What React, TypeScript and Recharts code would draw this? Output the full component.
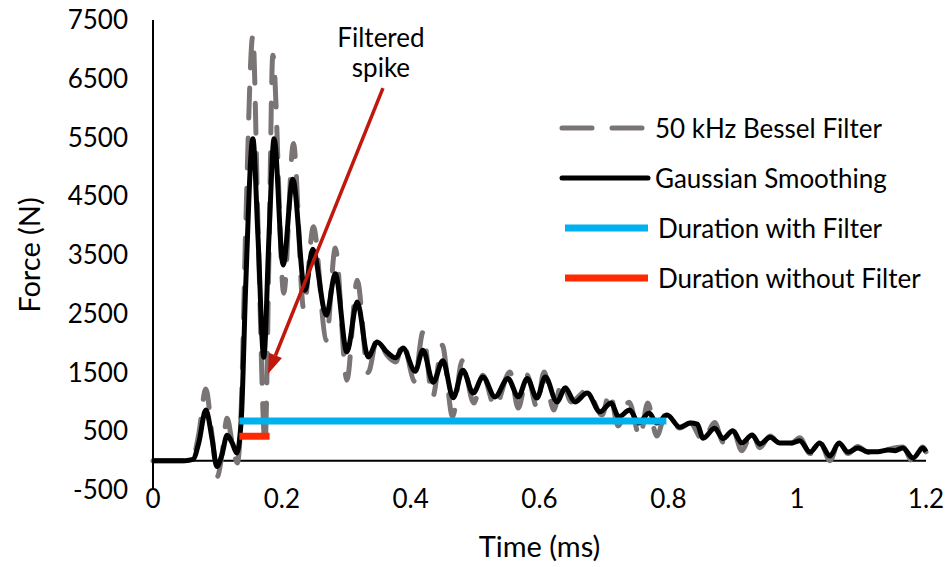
import { LineChart, Line, XAxis, YAxis, ReferenceLine, Legend } from 'recharts';

// Gaussian smoothing trace (time in ms, force in N), peaks and troughs
const gaussTime = [
  0, 0.05, 0.062, 0.071, 0.082, 0.092, 0.099, 0.107, 0.115, 0.123, 0.13, 0.137, 0.144,
  0.155, 0.163, 0.172, 0.18, 0.188, 0.202, 0.217, 0.236, 0.248, 0.269, 0.283, 0.301,
  0.317, 0.334, 0.348, 0.363, 0.377, 0.388, 0.407, 0.419, 0.435, 0.45, 0.466, 0.481,
  0.497, 0.512, 0.531, 0.551, 0.567, 0.581, 0.596, 0.609, 0.627, 0.64, 0.655, 0.674,
  0.694, 0.711, 0.723, 0.74, 0.754, 0.77, 0.782, 0.798, 0.818, 0.834, 0.845, 0.854,
  0.872, 0.885, 0.9, 0.914, 0.93, 0.942, 0.958, 0.973, 0.992, 1.004, 1.02, 1.035,
  1.051, 1.065, 1.079, 1.094, 1.11, 1.125, 1.141, 1.152, 1.164, 1.18, 1.195, 1.2,
];
const gaussForce = [
  0, 0, 20, 300, 860, 350, -100, 100, 430, 300, 130, 700, 3000,
  5480, 3800, 1760, 3800, 5480, 3330, 4790, 2900, 3600, 2475, 3180, 1850,
  2700, 1765, 2020, 1850, 1750, 1915, 1520, 1880, 1335, 1700, 1070, 1540,
  1150, 1425, 1085, 1400, 1085, 1400, 1065, 1425, 1000, 1235, 1000, 1150,
  830, 980, 745, 860, 640, 810, 640, 775, 570, 640, 620, 380,
  550, 375, 510, 300, 435, 280, 400, 300, 300, 340, 145, 300,
  80, 300, 145, 215, 150, 150, 180, 170, 215, 45, 215, 150,
];

// 50 kHz Bessel filter trace
const besselTime = [
  0, 0.05, 0.062, 0.071, 0.082, 0.092, 0.1, 0.107, 0.115, 0.123, 0.131, 0.137, 0.144,
  0.155, 0.163, 0.174, 0.18, 0.186, 0.203, 0.218, 0.234, 0.249, 0.269, 0.283, 0.301,
  0.317, 0.334, 0.348, 0.363, 0.377, 0.388, 0.406, 0.419, 0.434, 0.449, 0.465, 0.48,
  0.498, 0.512, 0.531, 0.554, 0.567, 0.581, 0.596, 0.607, 0.622, 0.635, 0.649, 0.674,
  0.697, 0.709, 0.722, 0.739, 0.756, 0.768, 0.782, 0.796, 0.818, 0.834, 0.854, 0.872,
  0.885, 0.9, 0.914, 0.93, 0.942, 0.958, 0.973, 0.992, 1.004, 1.02, 1.035, 1.051,
  1.065, 1.079, 1.094, 1.11, 1.125, 1.141, 1.164, 1.18, 1.195, 1.2,
];
const besselForce = [
  0, 0, 50, 450, 1220, 400, -270, 100, 720, 300, -40, 900, 4000,
  7230, 4000, 300, 3500, 6900, 2850, 5400, 2580, 3980, 2050, 3620, 1370,
  3070, 1500, 2085, 1800, 1680, 2020, 1350, 2185, 1080, 1965, 745, 1700,
  980, 1455, 915, 1510, 895, 1455, 910, 1510, 860, 1370, 1000, 1200,
  775, 1165, 590, 995, 400, 980, 420, 790, 555, 640, 340, 650,
  315, 530, 170, 480, 220, 420, 280, 300, 390, 120, 330, 0,
  330, 120, 240, 140, 140, 190, 230, -30, 230, 150,
];

// Impulse duration bars
const withFilterTime = [0.134, 0.797];
const withFilterForce = [675, 675];
const withoutFilterTime = [0.134, 0.181];
const withoutFilterForce = [415, 415];

const timeTicks = [0, 0.2, 0.4, 0.6, 0.8, 1, 1.2];
const forceTicks = [-500, 500, 1500, 2500, 3500, 4500, 5500, 6500, 7500];

// "Filtered spike" arrow, tail and head in data units
const arrowTail = { t: 0.357, f: 6340 };
const arrowHead = { t: 0.1785, f: 1474 };

const FONT = 'Lato, Carlito, sans-serif';
const GRAY = '#7a7474';
const CYAN = '#00b0ef';
const RED = '#ff2a00';
const DARK_RED = '#c0180c';

const toPoints = (ts: number[], fs: number[]) => ts.map((t, i) => ({ t, f: fs[i] }));

const besselData = toPoints(besselTime, besselForce);
const gaussData = toPoints(gaussTime, gaussForce);
const withFilterData = toPoints(withFilterTime, withFilterForce);
const withoutFilterData = toPoints(withoutFilterTime, withoutFilterForce);

const legendOrder = ['50 kHz Bessel Filter', 'Gaussian Smoothing', 'Duration with Filter', 'Duration without Filter'];
const legendStyles: Record<string, { dash?: string; width: number; cap: 'round' | 'butt'; x1: number; gap: number }> = {
  '50 kHz Bessel Filter': { dash: '30 20', width: 5, cap: 'round', x1: 7, gap: 0 },
  'Gaussian Smoothing': { width: 5, cap: 'round', x1: 7, gap: 0 },
  'Duration with Filter': { width: 7, cap: 'butt', x1: 10, gap: 3 },
  'Duration without Filter': { width: 7, cap: 'butt', x1: 10, gap: 3 },
};

function renderLegend(props: any) {
  const payload = [...(props.payload || [])].sort(
    (a: any, b: any) => legendOrder.indexOf(a.value) - legendOrder.indexOf(b.value)
  );
  return (
    <div style={{ fontFamily: FONT, fontSize: 26, color: '#000' }}>
      {payload.map((entry: any) => {
        const s = legendStyles[entry.value] || legendStyles['Gaussian Smoothing'];
        return (
          <div key={entry.value} style={{ display: 'flex', alignItems: 'center', height: 50 }}>
            <svg width={100} height={20} style={{ flex: 'none' }}>
              <line
                x1={s.x1}
                x2={93}
                y1={10}
                y2={10}
                stroke={entry.color}
                strokeWidth={s.width}
                strokeLinecap={s.cap}
                strokeDasharray={s.dash}
              />
            </svg>
            <span style={{ whiteSpace: 'nowrap', marginLeft: s.gap }}>{entry.value}</span>
          </div>
        );
      })}
    </div>
  );
}

function ForceLabel(props: any) {
  const { x, y, height } = props.viewBox;
  const cx = x + 18;
  const cy = y + height / 2;
  return (
    <text
      x={cx}
      y={cy}
      transform={`rotate(-90 ${cx} ${cy})`}
      textAnchor="middle"
      dominantBaseline="central"
      fontFamily={FONT}
      fontSize={29}
      fill="#000"
    >
      Force (N)
    </text>
  );
}

function TimeLabel(props: any) {
  const { x, y, width, height } = props.viewBox;
  return (
    <text
      x={x + width / 2}
      y={y + height + 37}
      textAnchor="middle"
      fontFamily={FONT}
      fontSize={29}
      fill="#000"
    >
      Time (ms)
    </text>
  );
}

function SpikeArrow(props: any) {
  const { x1, y1, x2, y2 } = props;
  if ([x1, y1, x2, y2].some((v) => typeof v !== 'number')) return null;
  const ang = Math.atan2(y2 - y1, x2 - x1);
  const len = 20;
  const half = 7;
  const bx = x2 - len * Math.cos(ang);
  const by = y2 - len * Math.sin(ang);
  const pts = [
    `${x2},${y2}`,
    `${bx + half * Math.sin(ang)},${by - half * Math.cos(ang)}`,
    `${bx - half * Math.sin(ang)},${by + half * Math.cos(ang)}`,
  ].join(' ');
  return (
    <g>
      <line x1={x1} y1={y1} x2={bx} y2={by} stroke={DARK_RED} strokeWidth={3.5} />
      <polygon points={pts} fill={DARK_RED} />
      <text x={x1 - 2} y={y1 - 41} textAnchor="middle" fontFamily={FONT} fontSize={26} fill="#000">
        Filtered
      </text>
      <text x={x1 - 2} y={y1 - 11} textAnchor="middle" fontFamily={FONT} fontSize={26} fill="#000">
        spike
      </text>
    </g>
  );
}

export default function App() {
  const tickStyle = { fontFamily: FONT, fontSize: 26, fill: '#000' };
  return (
    <div style={{ position: 'absolute', left: 0, top: 0, width: 946, height: 567, background: '#fff' }}>
      <LineChart width={946} height={567} margin={{ top: 20, right: 20, left: 10, bottom: 47 }}>
        <XAxis
          dataKey="t"
          type="number"
          domain={[0, 1.2]}
          ticks={timeTicks}
          allowDuplicatedCategory={false}
          axisLine={false}
          tickLine={false}
          tickSize={0}
          tickMargin={0}
          height={30}
          tick={tickStyle}
          tickFormatter={(v: number) => String(v)}
          label={<TimeLabel />}
        />
        <YAxis
          type="number"
          domain={[-500, 7500]}
          ticks={forceTicks}
          allowDataOverflow
          width={143}
          axisLine={{ stroke: '#000', strokeWidth: 2 }}
          tickLine={false}
          tickSize={0}
          tickMargin={25}
          tick={tickStyle}
          label={<ForceLabel />}
        />
        <ReferenceLine y={0} stroke="#000" strokeWidth={2} />
        <Line
          id="bessel"
          data={besselData}
          dataKey="f"
          name="50 kHz Bessel Filter"
          type="monotone"
          stroke={GRAY}
          strokeWidth={5}
          strokeDasharray="30 20"
          strokeLinecap="round"
          dot={false}
          activeDot={false}
          isAnimationActive={false}
        />
        <Line
          id="gauss"
          data={gaussData}
          dataKey="f"
          name="Gaussian Smoothing"
          type="monotone"
          stroke="#000"
          strokeWidth={5}
          dot={false}
          activeDot={false}
          isAnimationActive={false}
        />
        <Line
          id="withFilter"
          data={withFilterData}
          dataKey="f"
          name="Duration with Filter"
          type="linear"
          stroke={CYAN}
          strokeWidth={7}
          dot={false}
          activeDot={false}
          isAnimationActive={false}
        />
        <Line
          id="withoutFilter"
          data={withoutFilterData}
          dataKey="f"
          name="Duration without Filter"
          type="linear"
          stroke={RED}
          strokeWidth={7}
          dot={false}
          activeDot={false}
          isAnimationActive={false}
        />
        <ReferenceLine
          segment={[
            { x: arrowTail.t, y: arrowTail.f },
            { x: arrowHead.t, y: arrowHead.f },
          ]}
          shape={<SpikeArrow />}
          ifOverflow="visible"
        />
        <Legend
          layout="vertical"
          align="center"
          verticalAlign="middle"
          content={renderLegend}
          wrapperStyle={{ left: 555, top: 103, width: 390, height: 200 }}
        />
      </LineChart>
    </div>
  );
}
